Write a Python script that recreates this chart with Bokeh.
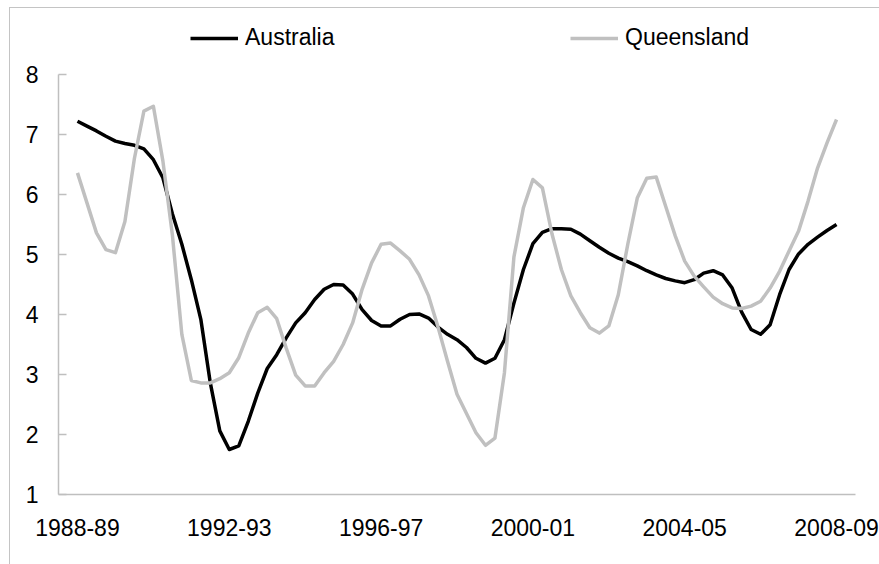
from bokeh.plotting import figure
from bokeh.models import Range1d, FixedTicker, Legend, LegendItem
from bokeh.embed import file_html
from bokeh.resources import INLINE

# Quarterly observations, 1988-89 to 2008-09 (quarter index 0 = 1988-89)
quarters = list(range(81))

australia = [
    7.22, 7.14, 7.06, 6.97,
    6.89, 6.85, 6.82, 6.76,
    6.58, 6.28, 5.68, 5.17,
    4.58, 3.92, 2.86, 2.06,
    1.75, 1.81, 2.22, 2.69,
    3.10, 3.33, 3.61, 3.86,
    4.03, 4.25, 4.42, 4.50,
    4.49, 4.34, 4.08, 3.90,
    3.81, 3.81, 3.92, 4.00,
    4.01, 3.94, 3.79, 3.67,
    3.58, 3.45, 3.27, 3.19,
    3.27, 3.58, 4.19, 4.75,
    5.18, 5.37, 5.43, 5.43,
    5.42, 5.34, 5.23, 5.12,
    5.02, 4.94, 4.88, 4.81,
    4.73, 4.66, 4.60, 4.56,
    4.53, 4.58, 4.69, 4.73,
    4.66, 4.44, 4.04, 3.75,
    3.67, 3.83, 4.33, 4.75,
    5.01, 5.17, 5.29, 5.40,
    5.50,
]

queensland = [
    6.36, 5.86, 5.36, 5.08,
    5.03, 5.55, 6.60, 7.39,
    7.47, 6.56, 5.33, 3.67,
    2.90, 2.86, 2.86, 2.93,
    3.03, 3.28, 3.69, 4.03,
    4.12, 3.93, 3.44, 2.99,
    2.81, 2.81, 3.03, 3.22,
    3.50, 3.86, 4.42, 4.86,
    5.17, 5.19, 5.06, 4.92,
    4.66, 4.31, 3.79, 3.22,
    2.67, 2.35, 2.03, 1.82,
    1.94, 3.03, 4.96, 5.78,
    6.25, 6.11, 5.35, 4.75,
    4.31, 4.03, 3.78, 3.69,
    3.81, 4.33, 5.17, 5.94,
    6.27, 6.29, 5.80, 5.31,
    4.89, 4.64, 4.46, 4.29,
    4.18, 4.11, 4.10, 4.14,
    4.22, 4.44, 4.72, 5.06,
    5.39, 5.89, 6.44, 6.86,
    7.25,
]

tick_positions = [0, 16, 32, 48, 64, 80]
tick_labels = ["1988-89", "1992-93", "1996-97", "2000-01", "2004-05", "2008-09"]
y_ticks = [1, 2, 3, 4, 5, 6, 7, 8]

FONT = "Liberation Sans"
FSIZE = "23px"
GREY_AXIS = "#bfbfbf"

# frame: 484 px tall, 60 px per unit -> y from 1 to 1 + 484/60 (room for legend)
p = figure(width=869, height=556, output_backend="svg", toolbar_location=None,
           x_range=Range1d(-2, 82), y_range=Range1d(1, 1 + 484 / 60),
           min_border_left=48, min_border_right=24,
           min_border_top=2, min_border_bottom=70)

p.styles = {"margin-left": "10px", "margin-top": "8px",
            "outline": "1px solid #c4c4c4"}

p.grid.visible = False
p.outline_line_color = None
p.background_fill_color = "white"
p.border_fill_color = "white"

r_aus = p.line(quarters, australia, line_color="black", line_width=3.5,
               line_join="round")
r_qld = p.line(quarters, queensland, line_color="#c0c0c0", line_width=3.5,
               line_join="round")

# x axis
xa = p.xaxis[0]
xa.ticker = FixedTicker(ticks=tick_positions)
xa.major_label_overrides = {pos: lab for pos, lab in zip(tick_positions, tick_labels)}
xa.major_tick_in = 0
xa.major_tick_out = 0
xa.minor_tick_in = 0
xa.minor_tick_out = 0
xa.axis_line_color = GREY_AXIS
xa.axis_line_width = 1.5
xa.major_label_text_font = FONT
xa.major_label_text_font_size = FSIZE
xa.major_label_text_color = "black"
xa.major_label_standoff = 24

# y axis
ya = p.yaxis[0]
ya.ticker = FixedTicker(ticks=y_ticks)
ya.bounds = (1, 8)
ya.major_tick_in = 8
ya.major_tick_out = 0
ya.minor_tick_in = 0
ya.minor_tick_out = 0
ya.major_tick_line_color = GREY_AXIS
ya.major_tick_line_width = 1.5
ya.axis_line_color = GREY_AXIS
ya.axis_line_width = 1.5
ya.major_label_text_font = FONT
ya.major_label_text_font_size = FSIZE
ya.major_label_text_color = "black"
ya.major_label_standoff = 20

legend = Legend(
    items=[LegendItem(label="Australia", renderers=[r_aus]),
           LegendItem(label="Queensland", renderers=[r_qld])],
    orientation="horizontal",
    location=(132, 443),
    padding=0, margin=0, spacing=10,
    glyph_width=48, glyph_height=24,
    label_width=315, label_height=24,
    label_standoff=7,
    label_text_font=FONT, label_text_font_size=FSIZE,
    label_text_color="black",
    border_line_color=None,
    background_fill_alpha=0,
)
p.add_layout(legend, "center")

open("out.html", "w").write(file_html(p, INLINE))
